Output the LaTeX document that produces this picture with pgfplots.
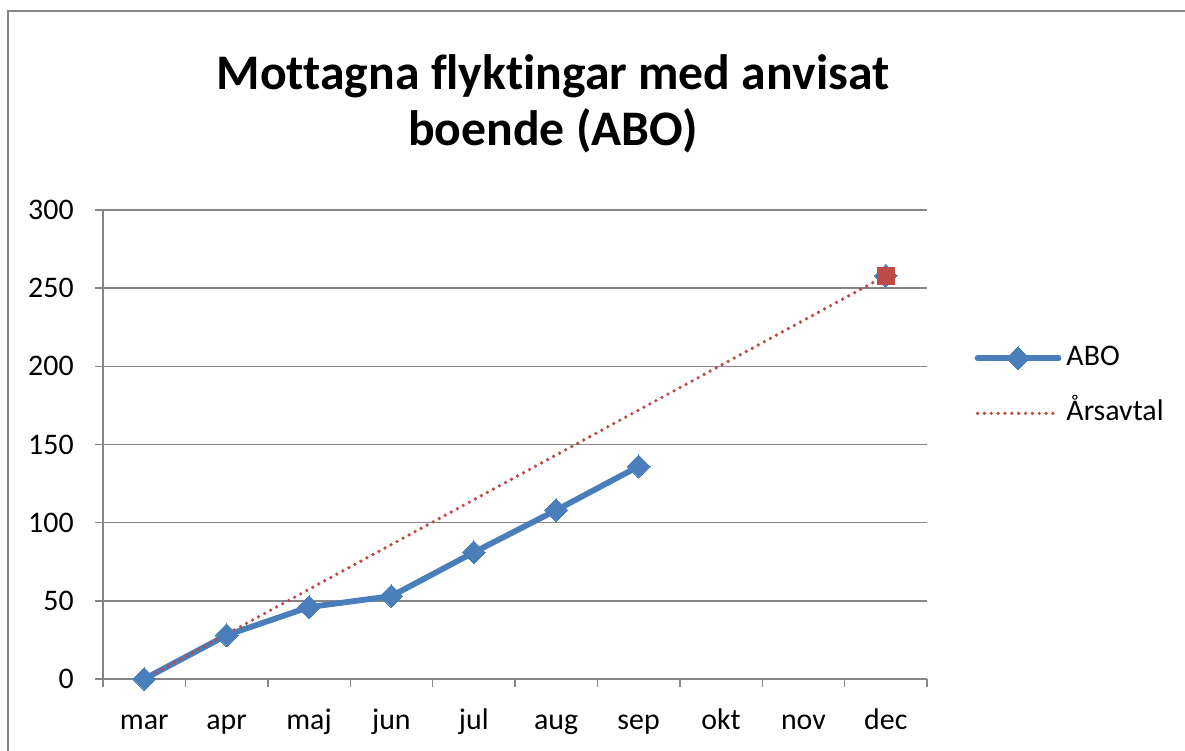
\documentclass[border=0pt]{standalone}
\usepackage{fontspec}
\setmainfont{Carlito}[Ligatures={NoCommon}]
\usepackage{pgfplots}
\pgfplotsset{compat=1.18}
\definecolor{abo}{RGB}{74,126,187}
\definecolor{ars}{RGB}{190,75,72}
\definecolor{gridc}{RGB}{134,134,134}
\pgfplotsset{
  marklegend/.style={legend image code/.code={\draw[mark repeat=2,mark phase=2,##1] plot coordinates {(0cm,0cm) (0.81cm,0cm) (1.62cm,0cm)};}},
  linelegend/.style={legend image code/.code={\draw[##1, mark=none] (0cm,0cm) -- (1.62cm,0cm);}},
}
\begin{document}
\begin{tikzpicture}
\path[use as bounding box] (0,0) rectangle (23.7cm,15.02cm);
\draw[gridc,line width=0.7pt] (0.16cm,0cm) -- (0.16cm,14.80cm) -- (23.7cm,14.80cm);
\node[font=\fontsize{28.3}{34}\selectfont\bfseries,anchor=base] at (11.06cm,13.22cm) {Mottagna flyktingar med anvisat};
\node[font=\fontsize{28.3}{34}\selectfont\bfseries,anchor=base] at (11.06cm,12.10cm) {boende (ABO)};
\begin{axis}[
  at={(2.06cm,1.44cm)}, anchor=south west,
  width=16.48cm, height=9.38cm, scale only axis,
  xmin=-0.5, xmax=9.5, ymin=0, ymax=300,
  axis x line*=bottom, axis y line*=left,
  axis line style={gridc, line width=0.8pt, -},
  xtick={0,...,9},
  xticklabels={mar,apr,maj,jun,jul,aug,sep,okt,nov,dec},
  minor xtick={-0.5,0.5,...,9.5},
  ytick={0,50,...,300},
  major x tick style={draw=none},
  minor tick length=0.16cm,
  major tick length=0.16cm,
  tick align=outside,
  tick style={gridc, line width=0.8pt},
  ymajorgrids, grid style={gridc, line width=0.8pt},
  font=\fontsize{17}{20}\selectfont,
  /pgf/number format/assume math mode=true,
  xticklabel style={anchor=base, yshift=-0.86cm, inner sep=0pt},
  yticklabel style={anchor=east, inner sep=0pt, xshift=-0.42cm},
  unbounded coords=jump,
  legend style={at={(1.051,0.625)}, anchor=west, draw=none, fill=none,
    nodes={inner sep=0pt, text height=0.42cm, text depth=0.12cm, anchor=west},
    row sep=0.56cm, column sep=0.1cm, font=\fontsize{17}{20}\selectfont},
  legend cell align=left,
]
\addplot[abo, line width=3.3pt, line cap=round, line join=round, mark=square*, mark size=4.6pt, mark options={rotate=45, solid, line width=0pt}, marklegend]
  coordinates {(0,0) (1,28) (2,46) (3,53) (4,81) (5,108) (6,136) (7,nan) (8,nan) (9,258)};
\addlegendentry{ABO}
\addplot[ars, line width=2.1pt, line cap=round, dash pattern=on 0pt off 3.9pt,
  mark=square*, mark size=4.8pt, mark indices={2}, mark options={solid, line width=0pt}, linelegend]
  coordinates {(0,0) (9,258)};
\addlegendentry{Årsavtal}
\end{axis}
\end{tikzpicture}
\end{document}
